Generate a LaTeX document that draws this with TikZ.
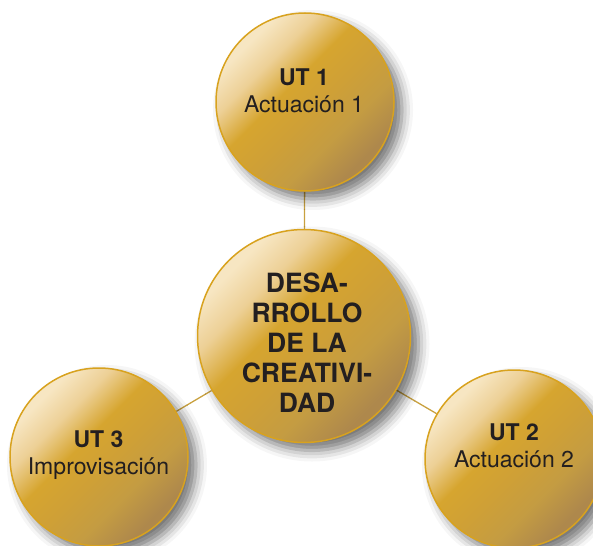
\documentclass[tikz,border=0pt]{standalone}
\usepackage{fontspec}
\setmainfont{TeX Gyre Heros}
\usetikzlibrary{shadows.blur}
\definecolor{goldedge}{HTML}{D8A21E}
\definecolor{goldline}{HTML}{C9A13F}
\definecolor{gl}{HTML}{F7E6C2}
\definecolor{gl2}{HTML}{EDD096}
\definecolor{gm}{HTML}{D6A52F}
\definecolor{gm2}{HTML}{CFA036}
\definecolor{gm3}{HTML}{C49C42}
\definecolor{gd}{HTML}{AE884C}
\definecolor{txt}{HTML}{231F20}
\pgfdeclareverticalshading{goldball}{100bp}{color(0bp)=(gd); color(27bp)=(gd); color(37bp)=(gm3); color(47bp)=(gm2); color(56bp)=(gm); color(65bp)=(gl2); color(73bp)=(gl); color(100bp)=(gl)}
\pgfdeclarelayer{background}
\pgfsetlayers{background,main}
\tikzset{
  ball/.style={circle, draw=goldedge, line width=1.5pt, shading=goldball, shading angle=45,
    blur shadow={shadow xshift=8pt, shadow yshift=-8pt, shadow blur radius=11pt, shadow opacity=55},
    inner sep=0pt},
  conn/.style={draw=goldline, line width=1.3pt},
  smalltext/.style={text=txt, align=center, font=\fontsize{23}{27}\selectfont},
  bigtext/.style={text=txt, align=center, font=\fontsize{26.5}{30}\selectfont\bfseries}
}
\begin{document}
\begin{tikzpicture}[x=1pt,y=-1pt]
\useasboundingbox (0,0) rectangle (593,545);
\node[ball, minimum size=178pt] (t) at (305,102) {};
\node[ball, minimum size=178pt] (l) at (99,457) {};
\node[ball, minimum size=178pt] (r) at (514,459) {};
\node[ball, minimum size=213pt] (c) at (304,336) {};
\begin{pgfonlayer}{background}
\draw[conn] (c) -- (t);
\draw[conn] (c) -- (l);
\draw[conn] (c) -- (r);
\end{pgfonlayer}
\node[smalltext] (tt) at (304,90.5) {\textbf{UT 1}\\Actuación 1};
\node[smalltext] (lt) at (98.5,455.5) {\textbf{UT 3}\\Improvisación};
\node[smalltext] (rt) at (514,446) {\textbf{UT 2}\\Actuación 2};
\node[bigtext] (ct) at (307,342.5) {DESA-\\RROLLO\\DE LA\\CREATIVI-\\DAD};
\end{tikzpicture}
\end{document}
